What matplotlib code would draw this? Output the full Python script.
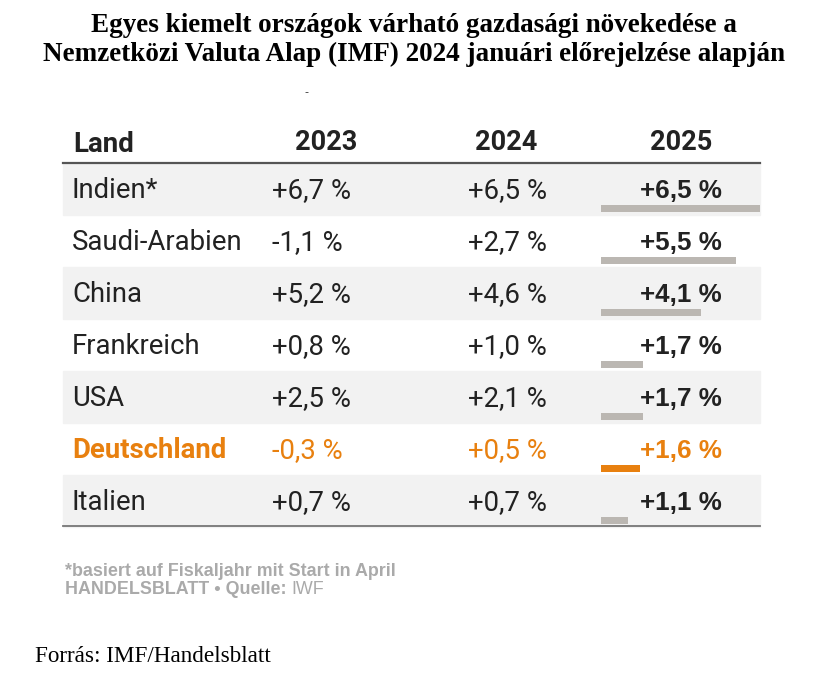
import matplotlib.pyplot as plt
from matplotlib.patches import Rectangle

# datos de la tabla
laender = ["Indien*", "Saudi-Arabien", "China", "Frankreich", "USA", "Deutschland", "Italien"]
werte_2023 = ["+6,7 %", "-1,1 %", "+5,2 %", "+0,8 %", "+2,5 %", "-0,3 %", "+0,7 %"]
werte_2024 = ["+6,5 %", "+2,7 %", "+4,6 %", "+1,0 %", "+2,1 %", "+0,5 %", "+0,7 %"]
werte_2025 = [6.5, 5.5, 4.1, 1.7, 1.7, 1.6, 1.1]
kopf = ["Land", "2023", "2024", "2025"]
hervorgehoben = "Deutschland"

titel = ("Egyes kiemelt országok várható gazdasági növekedése a\n"
         "Nemzetközi Valuta Alap (IMF) 2024 januári előrejelzése alapján")
fussnote = "*basiert auf Fiskaljahr mit Start in April"
forras = "Forrás: IMF/Handelsblatt"

ORANGE = "#e8800f"
GRAU_BAR = "#bbb7b2"
GRAU_BG = "#f2f2f2"
TEXT = "#222222"

cond = ["Roboto", "DejaVu Sans"]
wide = ["Liberation Sans", "DejaVu Sans"]
serif = ["Liberation Serif", "DejaVu Serif"]

fig = plt.figure(figsize=(8.28, 6.82), dpi=100)
ax = fig.add_axes([0, 0, 1, 1])
ax.set_xlim(0, 828)
ax.set_ylim(682, 0)
ax.axis("off")

# titulo
ax.text(414, 40, titel, ha="center", va="center", fontsize=19.5,
        fontweight="bold", family=serif, linespacing=1.2)
ax.text(306, 92, "-", ha="center", va="center", fontsize=8, color="#333333")

# cabecera
top = 163
h = 52
ax.text(73, 145, kopf[0], ha="left", va="center", fontsize=20, fontweight="bold",
        family=cond, color=TEXT)
for x, t in zip([326, 506, 681], kopf[1:]):
    ax.text(x, 143, t, ha="center", va="center", fontsize=19.5, fontweight="bold",
            family=cond, color=TEXT)

# filas
for i, land in enumerate(laender):
    y0 = top + i * h
    if i % 2 == 0:
        ax.add_patch(Rectangle((63, y0), 697, h, color=GRAU_BG, zorder=0))
    farbe = ORANGE if land == hervorgehoben else TEXT
    yc = y0 + 27.5
    ax.text(72, yc, land, ha="left", va="center", fontsize=19.8, family=cond,
            color=farbe, fontweight="bold" if land == hervorgehoben else "normal")
    ax.text(272, yc, werte_2023[i], ha="left", va="center", fontsize=19.8,
            family=cond, color=farbe)
    ax.text(468, yc, werte_2024[i], ha="left", va="center", fontsize=19.8,
            family=cond, color=farbe)
    txt = "+" + f"{werte_2025[i]:.1f}".replace(".", ",") + " %"
    ax.text(640, yc, txt, ha="left", va="center", fontsize=18.7, family=wide,
            fontweight="bold", color=farbe)

# barras 2025
skala = 159 / max(werte_2025)
ys = [top + i * h + h - 6.5 for i in range(len(laender))]
farben = [ORANGE if l == hervorgehoben else GRAU_BAR for l in laender]
ax.barh(ys, [v * skala for v in werte_2025], left=601, height=7, color=farben, zorder=2)

# lineas
ax.plot([63, 760], [top, top], color="#555555", lw=1.6)
ax.plot([63, 760], [top + 7 * h - 1, top + 7 * h - 1], color="#777777", lw=1.3)

# notas
ax.text(65, 571, fussnote, ha="left", va="center", fontsize=12.9, family=wide,
        fontweight="bold", color="#aaaaaa")
t = ax.text(65, 590, "HANDELSBLATT • Quelle: ", ha="left", va="center", fontsize=12.9,
            family=wide, fontweight="bold", color="#aaaaaa")
ax.annotate("IWF", xy=(1, 0.5), xycoords=t, ha="left", va="center", fontsize=12.9,
            family=wide, color="#aaaaaa")

ax.text(35, 657, forras, ha="left", va="center", fontsize=16.7, family=serif, color="black")

fig.savefig("out.png", dpi=100)
